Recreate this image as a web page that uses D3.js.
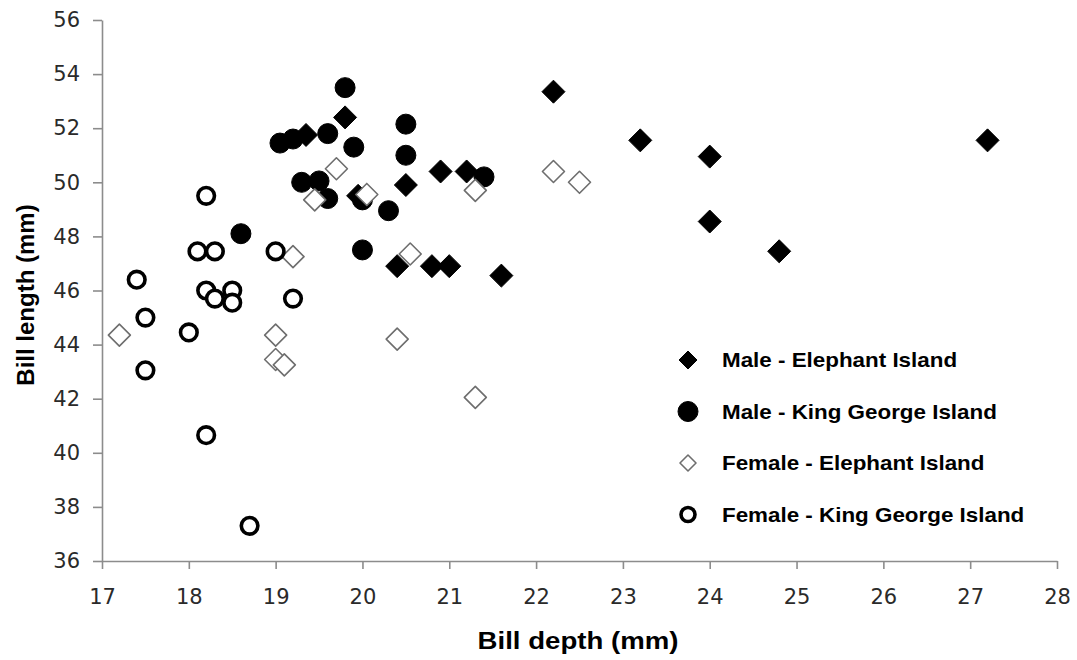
<!DOCTYPE html>
<html>
<head>
<meta charset="utf-8">
<script src="https://cdn.jsdelivr.net/npm/d3@7"></script>
<style>
  body { margin: 0; background: #fff; }
  .axis path, .axis line { stroke: #8c8c8c; stroke-width: 1.6px; }
  .axis text { font-family: "DejaVu Sans", Verdana, sans-serif; font-size: 21px; fill: #2a2a2a; }
  .title { font-family: "Liberation Sans", Arial, sans-serif; font-weight: bold; fill: #000; }
  .legend text { font-family: "Liberation Sans", Arial, sans-serif; font-weight: bold; font-size: 20px; fill: #000; }
</style>
</head>
<body>
<div id="chart-area"></div>
<script>
// bill depth / bill length (mm)
const maleElephantDepth  = [19.8, 19.35, 19.95, 20.5, 20.9, 21.2, 20.4, 20.8, 21.0, 21.6, 22.2, 23.2, 24.0, 24.0, 24.8, 27.2]
const maleElephantLength = [52.4, 51.75, 49.5, 49.9, 50.4, 50.4, 46.9, 46.9, 46.9, 46.55, 53.35, 51.55, 50.95, 48.55, 47.45, 51.55]

const maleKingDepth  = [19.05, 19.2, 19.6, 19.8, 19.9, 20.5, 20.5, 19.3, 19.5, 19.6, 20.0, 20.3, 18.6, 20.0, 21.4]
const maleKingLength = [51.45, 51.6, 51.8, 53.5, 51.3, 52.15, 51.0, 50.0, 50.05, 49.4, 49.35, 48.95, 48.1, 47.5, 50.2]

const femaleElephantDepth  = [19.7, 19.45, 20.05, 19.2, 20.55, 17.2, 19.0, 19.0, 19.1, 20.4, 21.3, 22.2, 22.5, 21.3]
const femaleElephantLength = [50.5, 49.35, 49.55, 47.25, 47.35, 44.35, 44.35, 43.45, 43.25, 44.2, 49.7, 50.4, 50.0, 42.05]

const femaleKingDepth  = [18.2, 18.1, 18.3, 19.0, 17.4, 18.2, 18.3, 18.5, 18.5, 19.2, 17.5, 18.0, 17.5, 18.2, 18.7]
const femaleKingLength = [49.5, 47.45, 47.45, 47.45, 46.4, 46.0, 45.7, 46.0, 45.55, 45.7, 45.0, 44.45, 43.05, 40.65, 37.3]

const seriesNames = ["Male - Elephant Island", "Male - King George Island", "Female - Elephant Island", "Female - King George Island"]
const xTicks = [17, 18, 19, 20, 21, 22, 23, 24, 25, 26, 27, 28]
const yTicks = [36, 38, 40, 42, 44, 46, 48, 50, 52, 54, 56]

const WIDTH = 1077
const HEIGHT = 660

const svg = d3.select("#chart-area").append("svg")
  .attr("width", WIDTH)
  .attr("height", HEIGHT)

// scales
const x = d3.scaleLinear().domain([17, 28]).range([102, 1057])
const y = d3.scaleLinear().domain([36, 56]).range([561, 20])

// axes
svg.append("g")
  .attr("class", "axis")
  .attr("transform", `translate(0, ${y(36)})`)
  .call(d3.axisBottom(x).tickValues(xTicks).tickSize(8).tickSizeOuter(0).tickPadding(20))

svg.append("g")
  .attr("class", "axis")
  .attr("transform", `translate(${x(17)}, 0)`)
  .call(d3.axisLeft(y).tickValues(yTicks).tickSize(9).tickSizeOuter(0).tickPadding(13))

// axis titles (the picture is a bit wider than tall, so stretch them sideways)
svg.append("text")
  .attr("class", "title")
  .attr("transform", "translate(578, 649) scale(1.15, 1)")
  .attr("text-anchor", "middle")
  .style("font-size", "24px")
  .text("Bill depth (mm)")

svg.append("text")
  .attr("class", "title")
  .attr("transform", "translate(34, 295) rotate(-90)")
  .attr("text-anchor", "middle")
  .style("font-size", "24px")
  .text("Bill length (mm)")

// marker drawing
function diamond(s) {
  return `M0,${-s}L${s},0L0,${s}L${-s},0Z`
}

const styles = [
  { shape: "diamond", size: 11.5, lsize: 9, fill: "#000", stroke: "#000", sw: 1 },
  { shape: "circle", size: 10, lsize: 10, fill: "#000", stroke: "#000", sw: 1 },
  { shape: "diamond", size: 11, lsize: 8, fill: "#fff", stroke: "#6e6e6e", sw: 1.6 },
  { shape: "circle", size: 8.3, lsize: 7, fill: "#fff", stroke: "#000", sw: 3.6 }
]

function drawMarker(sel, st, s) {
  if (st.shape === "circle") {
    sel.append("circle").attr("r", s)
      .attr("fill", st.fill).attr("stroke", st.stroke).attr("stroke-width", st.sw)
  } else {
    sel.append("path").attr("d", diamond(s))
      .attr("fill", st.fill).attr("stroke", st.stroke).attr("stroke-width", st.sw)
      .attr("stroke-linejoin", "round")
  }
}

const series = [
  d3.zip(maleElephantDepth, maleElephantLength),
  d3.zip(maleKingDepth, maleKingLength),
  d3.zip(femaleElephantDepth, femaleElephantLength),
  d3.zip(femaleKingDepth, femaleKingLength)
]

series.forEach((pts, i) => {
  const st = styles[i]
  svg.append("g").selectAll("g")
    .data(pts)
    .enter().append("g")
    .attr("transform", d => `translate(${x(d[0])}, ${y(d[1])})`)
    .each(function() { drawMarker(d3.select(this), st, st.size) })
})

// legend
const legend = svg.append("g").attr("class", "legend")
seriesNames.forEach((name, i) => {
  const row = legend.append("g").attr("transform", `translate(688, ${360 + i * 51.5})`)
  drawMarker(row, styles[i], styles[i].lsize)
  row.append("text")
    .attr("transform", "translate(34, 0) scale(1.12, 1)")
    .attr("dy", "0.36em")
    .text(name)
})
</script>
</body>
</html>
